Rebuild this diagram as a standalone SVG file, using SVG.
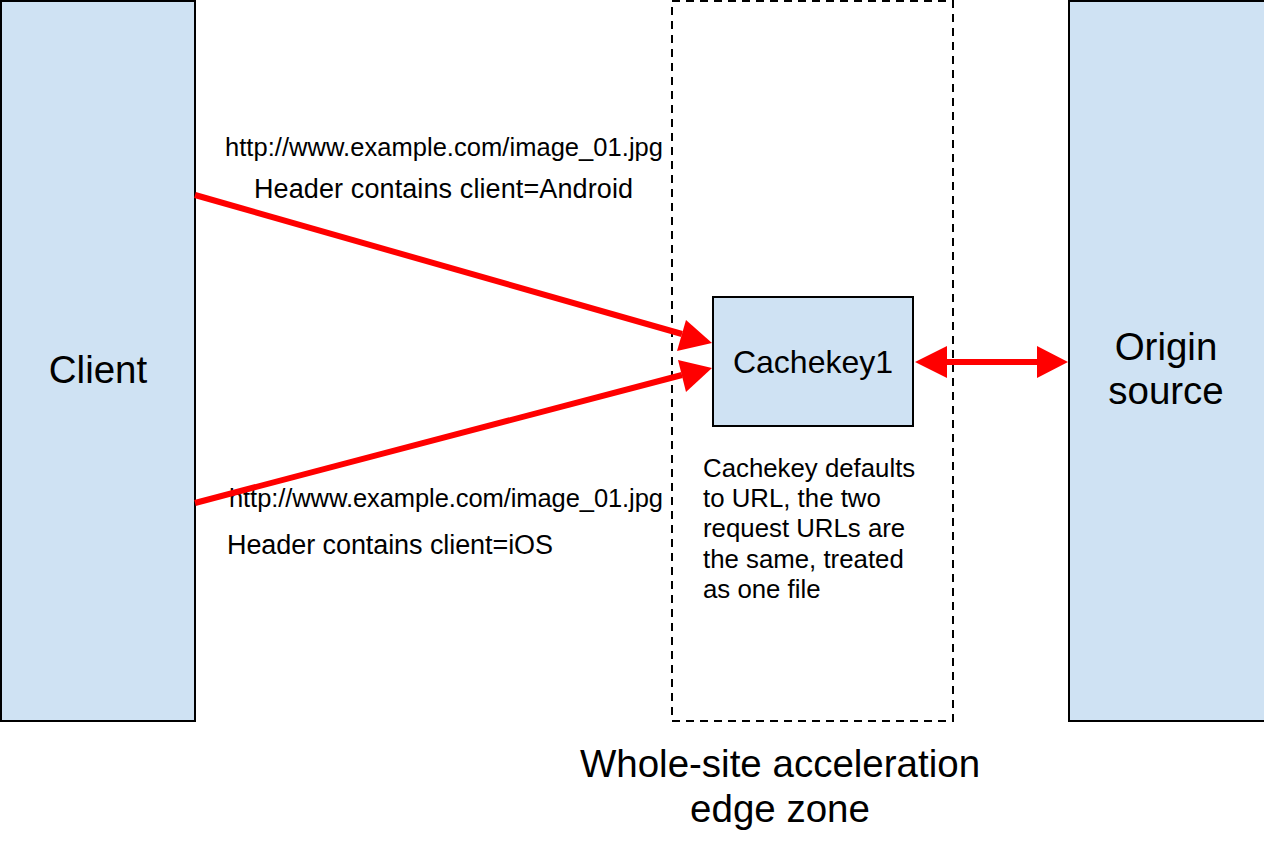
<svg xmlns="http://www.w3.org/2000/svg" width="1264" height="848" viewBox="0 0 1264 848">
<style>
.box{fill:#cfe2f3;stroke:#000;stroke-width:2}
.t{font-family:"Liberation Sans",Arial,sans-serif;fill:#000}
.url{font-size:25.5px}
.hdr{font-size:27px}
.note{font-size:25.8px}
.big{font-size:38.5px}
.conn{stroke:#f00;stroke-width:6;fill:none}
.head{fill:#f00}
</style>
<rect width="1264" height="848" fill="#fff"/>
<g id="zone">
<rect x="672" y="1" width="281" height="720" fill="none" stroke="#000" stroke-width="2" stroke-dasharray="8,6"/>
<text class="t big" x="780" y="777" text-anchor="middle">Whole-site acceleration</text>
<text class="t big" x="780" y="822" text-anchor="middle">edge zone</text>
</g>
<g id="client">
<rect class="box" x="1" y="1" width="194" height="720"/>
<text class="t big" x="98" y="383" text-anchor="middle">Client</text>
</g>
<g id="origin">
<rect class="box" x="1069" y="1" width="197" height="720"/>
<text class="t big" x="1166" y="360" text-anchor="middle">Origin</text>
<text class="t big" x="1166" y="404" text-anchor="middle">source</text>
</g>
<g id="cachekey">
<rect class="box" x="713" y="297" width="200" height="129"/>
<text class="t" font-size="32" x="813" y="373" text-anchor="middle">Cachekey1</text>
</g>
<g id="labels">
<text class="t url" x="225" y="156" textLength="438">http://www.example.com/image_01.jpg</text>
<text class="t hdr" x="254" y="198" textLength="379">Header contains client=Android</text>
<text class="t url" x="229" y="507" textLength="434">http://www.example.com/image_01.jpg</text>
<text class="t hdr" x="227" y="554" textLength="326">Header contains client=iOS</text>
<text class="t note" x="703" y="477">Cachekey defaults</text>
<text class="t note" x="703" y="507">to URL, the two</text>
<text class="t note" x="703" y="537">request URLs are</text>
<text class="t note" x="703" y="568">the same, treated</text>
<text class="t note" x="703" y="598">as one file</text>
</g>
<g id="connectors">
<line class="conn" x1="195" y1="195" x2="682" y2="334"/>
<polygon class="head" points="712,343 677,351 686,320"/>
<line class="conn" x1="195" y1="503" x2="682" y2="375"/>
<polygon class="head" points="712,368 686,392 678,360"/>
<line class="conn" x1="940" y1="362" x2="1044" y2="362"/>
<polygon class="head" points="915,362 947,346 947,378"/>
<polygon class="head" points="1068,362 1037,346 1037,378"/>
</g>
</svg>
